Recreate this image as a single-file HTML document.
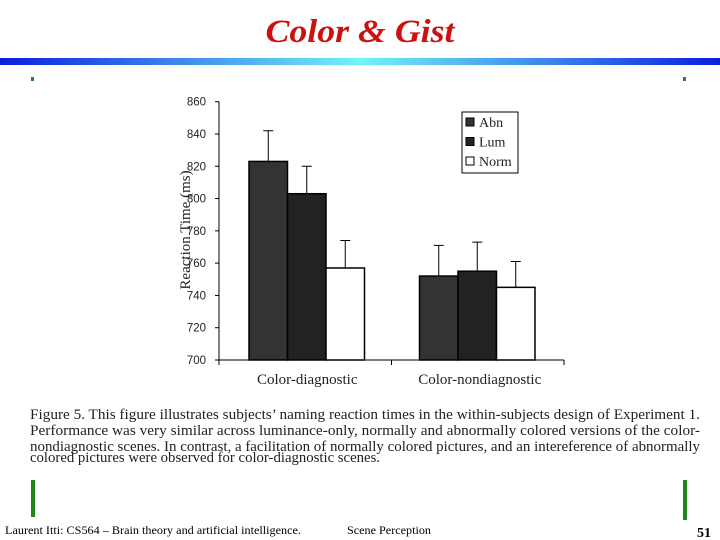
<!DOCTYPE html>
<html><head><meta charset="utf-8"><style>
html,body{margin:0;padding:0;background:#fff;width:720px;height:540px;overflow:hidden}
svg{display:block}
</style></head><body>
<svg width="720" height="540" xmlns="http://www.w3.org/2000/svg">
<defs>
<linearGradient id="bar" x1="0" x2="1" y1="0" y2="0">
<stop offset="0" stop-color="#0a1ee0"/><stop offset="0.5" stop-color="#70f4f8"/><stop offset="1" stop-color="#0a1ee0"/>
</linearGradient>
</defs>
<text x="360" y="42" text-anchor="middle" font-family="Liberation Serif, serif" font-style="italic" font-weight="bold" font-size="33" fill="#cc1111" textLength="189" lengthAdjust="spacingAndGlyphs">Color &amp; Gist</text>
<rect x="0" y="58" width="720" height="7" fill="url(#bar)"/>
<rect x="31" y="77" width="3" height="4" fill="#1a8a1a"/>
<rect x="683" y="77" width="3" height="4" fill="#1a8a1a"/>
<g id="chart"></g>
<g font-family="Liberation Serif, serif" font-size="15" fill="#222">
<text x="30" y="419" textLength="670" lengthAdjust="spacingAndGlyphs">Figure 5.  This figure illustrates subjects’ naming reaction times in the within-subjects design of Experiment 1.</text>
<text x="30" y="435" textLength="670" lengthAdjust="spacingAndGlyphs">Performance was very similar across luminance-only, normally and abnormally colored versions of the color-</text>
<text x="30" y="451" textLength="670" lengthAdjust="spacingAndGlyphs">nondiagnostic scenes.  In contrast, a facilitation of normally colored pictures, and an intereference of abnormally</text>
<text x="30" y="462" textLength="350" lengthAdjust="spacingAndGlyphs">colored pictures were observed for color-diagnostic scenes.</text>
</g>
<rect x="31" y="480" width="4" height="37" fill="#1a8a1a"/>
<rect x="683" y="480" width="4" height="40" fill="#1a8a1a"/>
<text x="5" y="534" font-family="Liberation Serif, serif" font-size="12" textLength="296" lengthAdjust="spacingAndGlyphs">Laurent Itti: CS564 – Brain theory and artificial intelligence.</text>
<text x="347" y="534" font-family="Liberation Serif, serif" font-size="12" textLength="84" lengthAdjust="spacingAndGlyphs">Scene Perception</text>
<text x="697" y="537" font-family="Liberation Serif, serif" font-weight="bold" font-size="14">51</text>
</svg>
<script>
const categories = ["Color-diagnostic", "Color-nondiagnostic"];
const seriesNames = ["Abn", "Lum", "Norm"];
const abnValues = [823, 752];
const lumValues = [803, 755];
const normValues = [757, 745];
const abnErr = [19, 19];
const lumErr = [17, 18];
const normErr = [17, 16];
const yTicks = [700, 720, 740, 760, 780, 800, 820, 840, 860];

const NS = "http://www.w3.org/2000/svg";
const g = document.getElementById("chart");
const x0 = 219, x1 = 564, yBase = 360, yTop = 101.7, vMin = 700, vMax = 860;
const y = v => yBase - (v - vMin) / (vMax - vMin) * (yBase - yTop);
const groupW = (x1 - x0) / categories.length;
const barW = 38.5;
const fills = ["#333333", "#222222", "#ffffff"];
const series = [abnValues, lumValues, normValues];
const errs = [abnErr, lumErr, normErr];
function mk(tag, attrs) { const e = document.createElementNS(NS, tag); for (const k in attrs) e.setAttribute(k, attrs[k]); g.appendChild(e); return e; }

yTicks.forEach(t => {
  const l = mk("line", {x1: x0 - 4, x2: x0, y1: y(t), y2: y(t), stroke: "#000"});
  
  
  const tx = mk("text", {x: 206, y: y(t) + 4, "text-anchor": "end", "font-family": "Liberation Sans, sans-serif", "font-size": "11.5", fill: "#222"});
  
  
  tx.textContent = t;
});
const ya = mk("line", {x1: x0, x2: x0, y1: yTop, y2: yBase, stroke: "#000"});


const xa = mk("line", {x1: x0, x2: x1, y1: yBase, y2: yBase, stroke: "#000"});


for (let i = 0; i <= categories.length; i++) {
  const tk = mk("line", {x1: x0 + i * groupW, x2: x0 + i * groupW, y1: yBase, y2: yBase + 5, stroke: "#000"});
  
  
}
const yt = mk("text", {x: 0, y: 0, transform: "translate(190,230) rotate(-90)", "text-anchor": "middle", "font-family": "Liberation Serif, serif", "font-size": "15", fill: "#222"});


yt.textContent = "Reaction Time (ms)";

categories.forEach((c, ci) => {
  const gx = x0 + ci * groupW + 30 - ci * 2;
  series.forEach((s, si) => {
    const bx = gx + si * barW;
    const r = mk("rect", {x: bx, y: y(s[ci]), width: barW, height: yBase - y(s[ci]), fill: fills[si], stroke: "#000", "stroke-width": "1.5"});
    
    
    const cx = bx + barW / 2;
    const e = mk("path", {d: `M${cx},${y(s[ci])}V${y(s[ci] + errs[si][ci])}M${cx - 5},${y(s[ci] + errs[si][ci])}H${cx + 5}`, stroke: "#000", fill: "none"});
    
    
  });
  const lt = mk("text", {x: x0 + (ci + 0.5) * groupW + 2, y: 384, "text-anchor": "middle", "font-family": "Liberation Serif, serif", "font-size": "15", fill: "#222"});
  
  
  lt.textContent = c;
});

const lg = mk("rect", {x: 462, y: 112, width: 56, height: 61, fill: "#fff", stroke: "#000"});


seriesNames.forEach((n, i) => {
  const ly = 122 + i * 19.5;
  const sw = mk("rect", {x: 466, y: ly - 4, width: 8, height: 8, fill: fills[i], stroke: "#000"});
  
  
  const t = mk("text", {x: 479, y: ly + 5, "font-family": "Liberation Serif, serif", "font-size": "14", fill: "#222"});
  
  
  t.textContent = n;
});
</script>
</body></html>
